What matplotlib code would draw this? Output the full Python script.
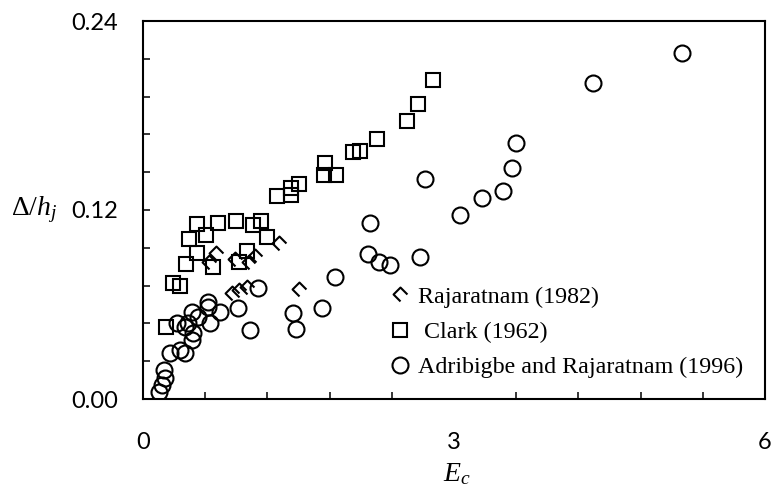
import matplotlib
matplotlib.use("Agg")
import matplotlib.pyplot as plt
from matplotlib.path import Path
from matplotlib.ticker import MultipleLocator, FixedFormatter, FixedLocator

# ---- data -------------------------------------------------------------
raj_x = [0.64, 0.70, 0.89, 1.02, 1.08, 1.31, 0.86, 0.93, 1.00, 1.50]
raj_y = [0.087, 0.093, 0.089, 0.087, 0.091, 0.099, 0.067, 0.069, 0.071, 0.070]

clark_x = [0.22, 0.29, 0.36, 0.415, 0.447, 0.524, 0.517, 0.608, 0.678, 0.726,
           0.894, 0.929, 1.007, 1.064, 1.135, 1.193, 1.295, 1.424, 1.424, 1.507,
           1.745, 1.755, 1.861, 2.022, 2.093, 2.254, 2.543, 2.655, 2.80]
clark_y = [0.046, 0.0735, 0.0717, 0.086, 0.1016, 0.093, 0.111, 0.104, 0.084, 0.112,
           0.1132, 0.0872, 0.094, 0.1105, 0.1132, 0.103, 0.129, 0.1295, 0.1337, 0.1365,
           0.1422, 0.150, 0.1422, 0.157, 0.1575, 0.1648, 0.1765, 0.1873, 0.2025]

adr_x = [0.157, 0.18, 0.212, 0.2025, 0.26, 0.357, 0.405, 0.47, 0.485, 0.325,
         0.405, 0.437, 0.469, 0.533, 0.630, 0.630, 0.646, 0.743, 0.913, 1.032,
         1.112, 1.449, 1.475, 1.723, 1.851, 2.173, 2.189, 2.276, 2.382, 2.671,
         2.719, 3.057, 3.266, 3.469, 3.555, 3.597, 4.342, 5.204]
adr_y = [0.0046, 0.0089, 0.0131, 0.0184, 0.029, 0.031, 0.0294, 0.0375, 0.0417, 0.048,
         0.046, 0.0485, 0.0554, 0.0523, 0.0618, 0.0586, 0.0485, 0.0554, 0.0576, 0.0438,
         0.0703, 0.0548, 0.0443, 0.058, 0.0777, 0.0919, 0.1115, 0.0872, 0.0851, 0.0904,
         0.1395, 0.1168, 0.1274, 0.1323, 0.1465, 0.1623, 0.2004, 0.220]

x_ticklabels = ["0", "3", "6"]
y_ticklabels = ["0.00", "0.12", "0.24"]

labels = ["Rajaratnam (1982)", " Clark (1962)", "Adribigbe and Rajaratnam (1996)"]

# ---- styling ----------------------------------------------------------
plt.rcParams["mathtext.fontset"] = "custom"
plt.rcParams["mathtext.rm"] = "Liberation Serif"
plt.rcParams["mathtext.it"] = "Liberation Serif:italic"

# open diamond with one side missing
chevron = Path([(0, -1), (-1, 0), (0, 1), (1, 0)],
               [Path.MOVETO, Path.LINETO, Path.LINETO, Path.LINETO])

fig = plt.figure(figsize=(7.73, 4.93), dpi=100)
ax = fig.add_axes([143 / 773, 1 - 399 / 493, 622 / 773, 378 / 493])

common = dict(linestyle="none", color="black", markerfacecolor="none",
              markeredgewidth=1.5)
h1, = ax.plot(raj_x, raj_y, marker=chevron, markersize=10, **common)
h2, = ax.plot(clark_x, clark_y, marker="s", markersize=10, **common)
h3, = ax.plot(adr_x, adr_y, marker="o", markersize=11.5, **common)

ax.set_xlim(0, 6)
ax.set_ylim(0, 0.24)

ax.xaxis.set_major_locator(FixedLocator([0, 3, 6]))
ax.xaxis.set_major_formatter(FixedFormatter(x_ticklabels))
ax.xaxis.set_minor_locator(MultipleLocator(0.6))
ax.yaxis.set_major_locator(FixedLocator([0, 0.12, 0.24]))
ax.yaxis.set_major_formatter(FixedFormatter(y_ticklabels))
ax.yaxis.set_minor_locator(MultipleLocator(0.024))

ax.tick_params(axis="both", which="both", direction="in", length=5, width=1.1,
               top=False, right=False)
ax.tick_params(axis="x", which="major", length=0, pad=24)
ax.tick_params(axis="y", which="major", length=5, pad=18)
for lab in ax.get_xticklabels() + ax.get_yticklabels():
    lab.set_fontfamily("Lato")
    lab.set_fontsize(17)

for sp in ax.spines.values():
    sp.set_linewidth(1.5)

ax.set_xlabel(r"$E_c$", fontsize=20)
ax.xaxis.set_label_coords(0.505, -0.195)
ax.xaxis.label.set_verticalalignment("center")
ax.set_ylabel(r"$\Delta/h_j$", fontsize=20, rotation=0)
ax.yaxis.set_label_coords(-0.175, 0.5)
ax.yaxis.label.set_verticalalignment("center")
ax.yaxis.label.set_horizontalalignment("center")

leg = ax.legend([h1, h2, h3], labels, loc="upper left",
                bbox_to_anchor=(390 / 773, 1 - 286 / 493),
                bbox_transform=fig.transFigure, frameon=False,
                numpoints=1, handlelength=0.85, handletextpad=0.3,
                labelspacing=0.56, borderaxespad=0, borderpad=0,
                prop={"family": "Liberation Serif", "size": 17.3})

fig.savefig("out.png", dpi=100)
